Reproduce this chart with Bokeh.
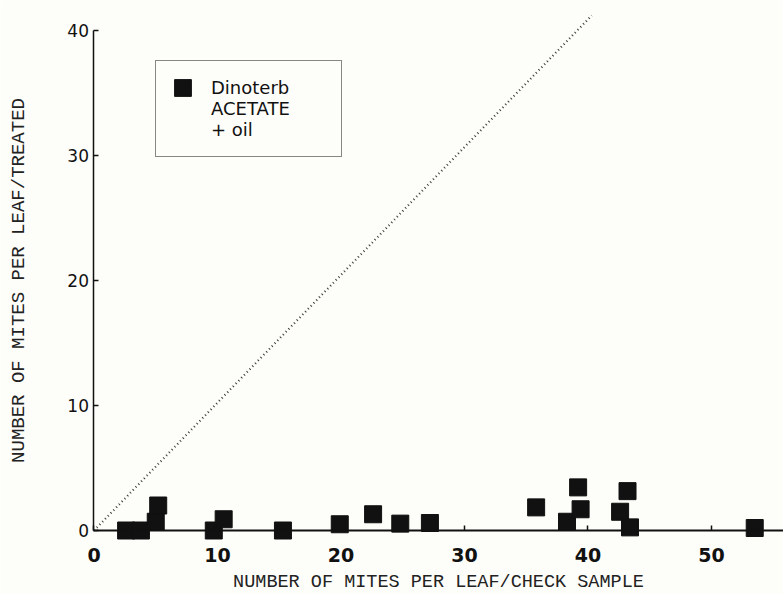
from bokeh.plotting import figure
from bokeh.models import Range1d, FixedTicker, Legend, LegendItem, ColumnDataSource
from bokeh.embed import file_html
from bokeh.resources import INLINE

# Data (x = mites per leaf / check, y = mites per leaf / treated)
check_sample = [2.6, 3.8, 5.0, 5.2, 9.7, 10.5, 15.3, 19.9, 22.6, 24.8, 27.2,
                35.8, 38.3, 39.2, 39.4, 42.6, 43.2, 43.4, 53.5]
treated = [0.0, 0.0, 0.7, 2.0, 0.0, 0.9, 0.0, 0.5, 1.3, 0.55, 0.6,
           1.85, 0.7, 3.45, 1.7, 1.5, 3.15, 0.25, 0.2]

# 1:1 reference line
ref_x = [0, 40.3]
ref_y = [0, 41.2]

x_ticks = [0, 10, 20, 30, 40, 50]
y_ticks = [0, 10, 20, 30, 40]
legend_lines = ["Dinoterb", "ACETATE", "+ oil"]

BG = "#fdfdf9"
INK = "#111111"

p = figure(width=783, height=594, output_backend="svg", toolbar_location=None,
           x_range=Range1d(-7.57, 55.83), y_range=Range1d(-5.12, 42.4),
           min_border_left=0, min_border_right=0, min_border_top=0,
           min_border_bottom=0, background_fill_color=BG, border_fill_color=BG,
           outline_line_color=None)
p.grid.visible = False

src = ColumnDataSource(dict(x=check_sample, y=treated))

p.line(ref_x, ref_y, line_color="#3a3a3a", line_width=2.2, line_dash="1 3")
# square markers as screen-sized rects (so the legend swatch is full size)
r = p.rect("x", "y", source=src, width=17, height=17,
           width_units="screen", height_units="screen",
           fill_color=INK, line_color=INK)
blank = p.scatter(x=[], y=[], marker="square", size=17,
                  fill_alpha=0, line_alpha=0)

# x axis at y = 0
xa = p.xaxis[0]
xa.fixed_location = 0
xa.bounds = (0, 55.83)
xa.ticker = FixedTicker(ticks=x_ticks)
xa.major_tick_in = 5
xa.major_tick_out = 0
xa.minor_tick_line_color = None
xa.axis_line_color = INK
xa.axis_line_width = 2
xa.major_tick_line_color = INK
xa.major_tick_line_width = 1.5
xa.major_label_standoff = 17
xa.major_label_text_font = "DejaVu Sans"
xa.major_label_text_font_size = "19px"
xa.major_label_text_font_style = "bold"
xa.major_label_text_color = INK
xa.axis_label = "NUMBER OF MITES PER LEAF/CHECK SAMPLE"
xa.axis_label_text_font = "Liberation Mono"
xa.axis_label_text_font_size = "18.5px"
xa.axis_label_text_font_style = "normal"
xa.axis_label_text_color = "#222222"
xa.axis_label_standoff = 7

# y axis at x = 0
ya = p.yaxis[0]
ya.fixed_location = 0
ya.bounds = (0, 40)
ya.ticker = FixedTicker(ticks=y_ticks)
ya.major_tick_in = 5
ya.major_tick_out = 0
ya.minor_tick_line_color = None
ya.axis_line_color = INK
ya.axis_line_width = 1.5
ya.major_tick_line_color = INK
ya.major_tick_line_width = 1.5
ya.major_label_standoff = 5
ya.major_label_text_font = "DejaVu Sans"
ya.major_label_text_font_size = "17px"
ya.major_label_text_color = INK
ya.axis_label = "NUMBER OF MITES PER LEAF/TREATED"
ya.axis_label_text_font = "Liberation Mono"
ya.axis_label_text_font_size = "19px"
ya.axis_label_text_font_style = "normal"
ya.axis_label_text_color = "#222222"
ya.axis_label_standoff = 34

items = [LegendItem(label=legend_lines[0], renderers=[r]),
         LegendItem(label=legend_lines[1], renderers=[blank]),
         LegendItem(label=legend_lines[2], renderers=[blank])]
legend = Legend(items=items, location=(155, 437), orientation="vertical",
                border_line_color=INK, border_line_width=1.5,
                background_fill_color=BG, background_fill_alpha=1.0,
                padding=16, margin=0, spacing=0,
                glyph_width=21, glyph_height=21, label_standoff=18,
                label_width=114, label_height=21, label_text_font="DejaVu Sans",
                label_text_font_size="18px", label_text_color=INK)
p.add_layout(legend, "center")

open("out.html", "w").write(file_html(p, INLINE))
